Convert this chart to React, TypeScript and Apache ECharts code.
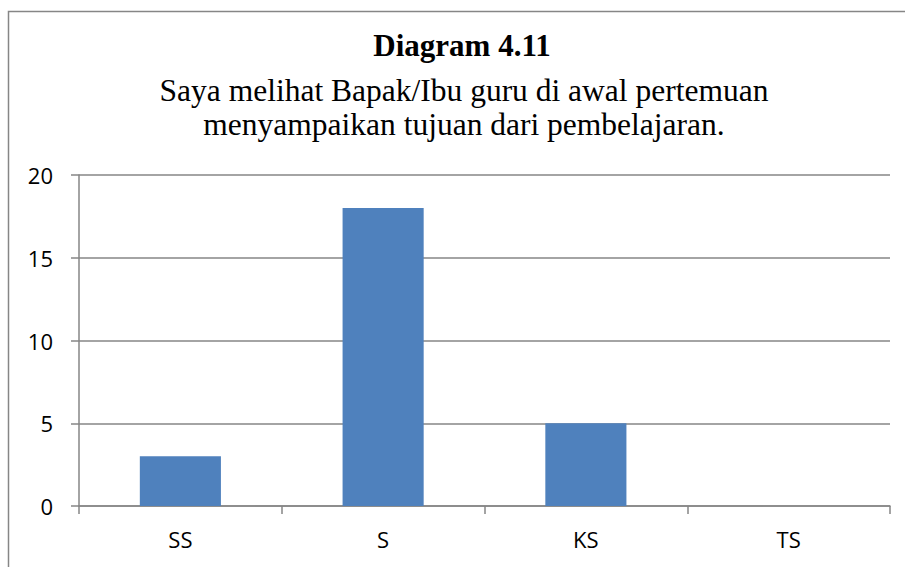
import React, { useEffect, useRef } from "react";
import * as echarts from "echarts";

const categories = ["SS", "S", "KS", "TS"];
const values = [3, 18, 5, 0];
const titleText = "Diagram 4.11";
const subtitleText = "Saya melihat Bapak/Ibu guru di awal pertemuan\nmenyampaikan tujuan dari pembelajaran.";

export default function App() {
  const ref = useRef<HTMLDivElement>(null);
  useEffect(() => {
    const chart = echarts.init(ref.current!, null, { renderer: "svg" });
    const axisColor = "#868686";
    chart.setOption({
      animation: false,
      backgroundColor: "#ffffff",
      graphic: [
        {
          type: "rect",
          shape: { x: 8.5, y: 11.5, width: 1000, height: 1000 },
          style: { fill: "none", stroke: axisColor, lineWidth: 1.5 },
          silent: true,
        },
        {
          type: "text",
          x: 462,
          y: 45,
          style: {
            text: titleText,
            fontFamily: "Liberation Serif",
            fontWeight: "bold",
            fontSize: 31,
            fill: "#000",
            align: "center",
            verticalAlign: "middle",
          },
        },
        {
          type: "text",
          x: 464,
          y: 107,
          style: {
            text: subtitleText,
            fontFamily: "Liberation Serif",
            fontSize: 31.5,
            lineHeight: 34,
            fill: "#000",
            align: "center",
            verticalAlign: "middle",
          },
        },
      ],
      grid: { left: 79, right: 15, top: 175, bottom: 61 },
      xAxis: {
        type: "category",
        data: categories,
        axisLine: { lineStyle: { color: axisColor, width: 1.5 } },
        axisTick: { show: true, length: 8, alignWithLabel: false, lineStyle: { color: axisColor, width: 1.5 } },
        axisLabel: { color: "#000", fontSize: 22, fontFamily: "Open Sans", margin: 22 },
      },
      yAxis: {
        type: "value",
        min: 0,
        max: 20,
        interval: 5,
        axisLine: { show: true, lineStyle: { color: axisColor, width: 1.5 } },
        axisTick: { show: true, length: 8, lineStyle: { color: axisColor, width: 1.5 } },
        axisLabel: { color: "#000", fontSize: 22, fontFamily: "Open Sans", margin: 26 },
        splitLine: { show: true, lineStyle: { color: axisColor, width: 1.5 } },
      },
      series: [
        {
          type: "bar",
          data: values,
          barWidth: "40%",
          itemStyle: { color: "#4F81BD" },
        },
      ],
    });
    return () => chart.dispose();
  }, []);
  return (
    <div
      ref={ref}
      style={{ position: "fixed", left: 0, top: 0, width: 905, height: 567 }}
    />
  );
}
